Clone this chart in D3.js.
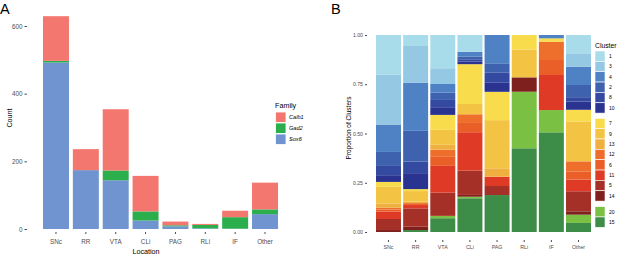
<!DOCTYPE html>
<html>
<head>
<meta charset="utf-8">
<title>Location counts and cluster proportions</title>
<script src="https://d3js.org/d3.v7.min.js"></script>
<style>
  body { margin: 0; padding: 0; background: #fff; }
  svg { font-family: "Liberation Sans", Arial, sans-serif; }
  .tick line { stroke: #4d4d4d; }
</style>
</head>
<body>
<script>
// ---- data ----
var locations = ["SNc", "RR", "VTA", "CLi", "PAG", "RLi", "IF", "Other"];
var families = ["Calb1", "Gad2", "Sox6"];
var familyColors = ["#F4776F", "#2BAE4C", "#6F94CF"];

// cell counts per location (panel A)
var calb1 = [132, 62, 181, 105, 11, 3, 19, 79];
var gad2  = [5, 0, 29, 27, 3, 10, 34, 14];
var sox6  = [492, 174, 144, 25, 8, 2, 1, 44];
var countTicks = [0, 200, 400, 600];

// clusters, top of the stack first (panel B)
var clusters = ["1", "3", "4", "2", "8", "10", "7", "9", "13", "12", "6", "11", "5", "14", "20", "15"];
var clusterColors = ["#A9DCEA", "#94C8E3", "#4E82C4", "#3F62AE", "#3449A0", "#2B3391",
                     "#F9DC4B", "#F3C443", "#F0B040", "#EE6E2C", "#EA5E28", "#DF3A26", "#A53027", "#7D201E",
                     "#79C043", "#3D8C48"];
var legendGroups = [["1", "3", "4", "2", "8", "10"],
                    ["7", "9", "13", "12", "6", "11", "5", "14"],
                    ["20", "15"]];

// share of each cluster (%) per location, in the order of `clusters`
var shareSNc   = [20.0, 25.4, 13.9, 7.1, 4.7, 3.4, 2.5, 8.4, 2.2, 0.9, 1.1, 3.7, 5.6, 1.0, 0, 0];
var shareRR    = [5.6, 18.6, 24.5, 15.6, 5.9, 8.1, 1.0, 5.4, 0.7, 0.5, 0.5, 1.7, 9.3, 1.7, 0, 1.0];
var shareVTA   = [16.9, 8.0, 4.4, 3.7, 3.7, 3.9, 7.6, 7.6, 2.5, 3.6, 4.6, 13.6, 11.8, 0, 1.2, 7.0];
var shareCLi   = [8.5, 0, 2.5, 1.3, 1.2, 1.3, 20.2, 5.2, 0, 4.4, 4.7, 19.5, 12.3, 0.9, 0.8, 17.1];
var sharePAG   = [0, 0, 14.4, 4.8, 5.1, 4.6, 14.4, 24.5, 4.3, 0, 0, 4.7, 4.6, 0, 0, 18.8];
var shareRLi   = [0, 0, 0, 0, 0, 0, 7.3, 14.2, 0, 0, 0, 0, 0, 7.3, 28.7, 42.5];
var shareIF    = [0, 0, 1.7, 0, 0, 0, 1.7, 0, 0, 9.3, 7.6, 17.8, 0, 0, 11.3, 50.6];
var shareOther = [9.3, 6.8, 9.3, 6.2, 2.2, 4.2, 5.9, 20.3, 0, 5.1, 4.2, 5.9, 10.2, 1.7, 4.2, 4.6];
var propTicks = [0, 0.25, 0.5, 0.75, 1];

var svg = d3.select("body").append("svg")
    .attr("width", 617)
    .attr("height", 255);

// ================= Panel A =================
var tableA = locations.map(function(loc, i) {
    return { loc: loc, Calb1: calb1[i], Gad2: gad2[i], Sox6: sox6[i] };
});
var famColor = d3.scaleOrdinal().domain(families).range(familyColors);

var xA = d3.scaleBand().domain(locations).range([38, 283]).paddingInner(0.13).paddingOuter(0.167);
var yA = d3.scaleLinear().domain([0, 600]).range([229, 26]);

// Sox6 at the bottom, Calb1 on top
var stackA = d3.stack().keys(["Sox6", "Gad2", "Calb1"])(tableA);

svg.append("g").selectAll("g")
    .data(stackA)
    .join("g")
    .attr("fill", function(d) { return famColor(d.key); })
    .selectAll("rect")
    .data(function(d) { return d; })
    .join("rect")
    .attr("x", function(d) { return xA(d.data.loc); })
    .attr("y", function(d) { return yA(d[1]); })
    .attr("width", xA.bandwidth())
    .attr("height", function(d) { return yA(d[0]) - yA(d[1]); });

var axA = svg.append("g")
    .attr("transform", "translate(27,0)")
    .call(d3.axisLeft(yA).tickValues(countTicks).tickSize(2.5).tickPadding(2));
axA.select(".domain").remove();
axA.selectAll("text").attr("fill", "#4d4d4d").style("font-size", "6.3px");

var axAx = svg.append("g")
    .attr("transform", "translate(0,232)")
    .call(d3.axisBottom(xA).tickSize(2).tickPadding(5.5));
axAx.select(".domain").remove();
axAx.selectAll("text").attr("fill", "#4d4d4d").style("font-size", "6.3px");

svg.append("text")
    .attr("transform", "translate(12,118) rotate(-90)")
    .attr("text-anchor", "middle")
    .style("font-size", "7.2px")
    .text("Count");

svg.append("text")
    .attr("x", 146).attr("y", 254)
    .attr("text-anchor", "middle")
    .style("font-size", "7.2px")
    .text("Location");

svg.append("text")
    .attr("x", 0).attr("y", 13.5)
    .style("font-size", "14.5px")
    .text("A");

// legend A
var legA = svg.append("g").attr("transform", "translate(275,0)");
legA.append("text")
    .attr("x", 0).attr("y", 107.5)
    .style("font-size", "7.2px")
    .text("Family");
families.forEach(function(f, i) {
    legA.append("rect")
        .attr("x", 0.5).attr("y", 112 + i * 11)
        .attr("width", 10.5).attr("height", 10.5)
        .attr("fill", famColor(f))
        .attr("stroke", "#fff").attr("stroke-width", 0.8);
    legA.append("text")
        .attr("x", 14).attr("y", 117.5 + i * 11)
        .attr("dy", "0.35em")
        .style("font-size", "5.6px")
        .style("font-style", "italic")
        .text(f);
});

// ================= Panel B =================
var shares = [shareSNc, shareRR, shareVTA, shareCLi, sharePAG, shareRLi, shareIF, shareOther];
var tableB = locations.map(function(loc, i) {
    var row = { loc: loc };
    clusters.forEach(function(c, j) { row[c] = shares[i][j]; });
    return row;
});
var clColor = d3.scaleOrdinal().domain(clusters).range(clusterColors);

var xB = d3.scaleBand().domain(locations).range([368, 599]).paddingInner(0.08).paddingOuter(0.295);
var yB = d3.scaleLinear().domain([0, 1]).range([232, 35]);

// first cluster level ends up on top, so stack in reverse
var stackB = d3.stack()
    .keys(clusters.slice().reverse())
    .offset(d3.stackOffsetExpand)(tableB);

svg.append("g").selectAll("g")
    .data(stackB)
    .join("g")
    .attr("fill", function(d) { return clColor(d.key); })
    .selectAll("rect")
    .data(function(d) { return d; })
    .join("rect")
    .attr("x", function(d) { return xB(d.data.loc); })
    .attr("y", function(d) { return yB(d[1]); })
    .attr("width", xB.bandwidth())
    .attr("height", function(d) { return Math.max(0, yB(d[0]) - yB(d[1])); });

var axB = svg.append("g")
    .attr("transform", "translate(367,0)")
    .call(d3.axisLeft(yB).tickValues(propTicks).tickFormat(d3.format(".2f")).tickSize(2).tickPadding(2));
axB.select(".domain").remove();
axB.selectAll("text").attr("fill", "#4d4d4d").style("font-size", "5.2px");

var axBx = svg.append("g")
    .attr("transform", "translate(0,240)")
    .call(d3.axisBottom(xB).tickSize(2).tickPadding(3));
axBx.select(".domain").remove();
axBx.selectAll("text").attr("fill", "#4d4d4d").style("font-size", "5.3px");

svg.append("text")
    .attr("transform", "translate(351,128) rotate(-90)")
    .attr("text-anchor", "middle")
    .style("font-size", "6.5px")
    .text("Proportion of Clusters");

svg.append("text")
    .attr("x", 331).attr("y", 13.5)
    .style("font-size", "14.5px")
    .text("B");

// legend B, three blocks of keys
var legB = svg.append("g").attr("transform", "translate(595,0)");
legB.append("text")
    .attr("x", 0).attr("y", 47.5)
    .style("font-size", "6.8px")
    .text("Cluster");
var groupTop = [51, 118.3, 206.6];
legendGroups.forEach(function(grp, g) {
    grp.forEach(function(c, i) {
        var y = groupTop[g] + i * 10.35;
        legB.append("rect")
            .attr("x", 0).attr("y", y)
            .attr("width", 10).attr("height", 10.35)
            .attr("fill", clColor(c))
            .attr("stroke", "#fff").attr("stroke-width", 0.6);
        legB.append("text")
            .attr("x", 14).attr("y", y + 5.2)
            .attr("dy", "0.35em")
            .style("font-size", "5px")
            .text(c);
    });
});
</script>
</body>
</html>
